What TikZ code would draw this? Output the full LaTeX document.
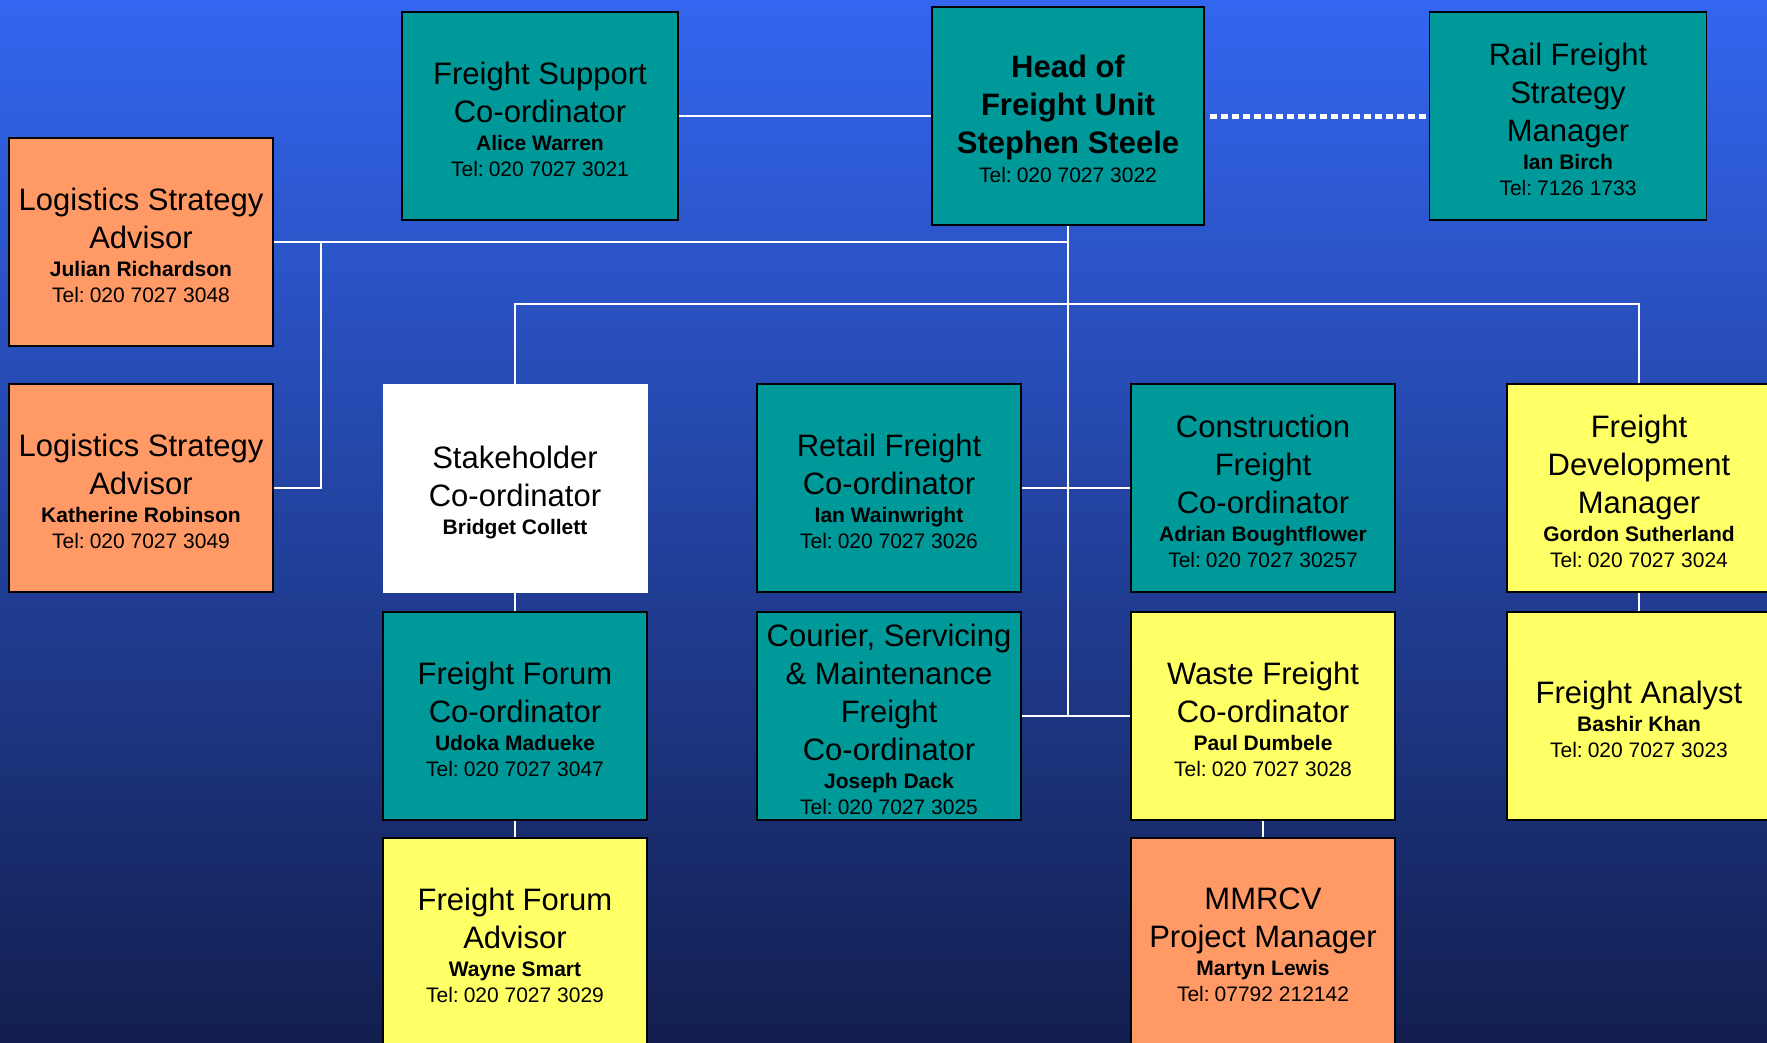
\documentclass[tikz,border=0pt]{standalone}
\usepackage{fontspec}
\setmainfont{Liberation Sans}
\definecolor{boxteal}{RGB}{0,153,153}
\definecolor{boxorange}{RGB}{255,153,102}
\definecolor{boxyellow}{RGB}{255,255,102}
\definecolor{bgtop}{RGB}{51,102,240}
\definecolor{bgmid}{RGB}{40,74,190}
\definecolor{bgbot}{RGB}{18,30,78}
\newcommand\ttl{\fontsize{31}{38}\selectfont\spaceskip=0.278em\relax}
\newcommand\sml{\fontsize{21}{26}\selectfont\spaceskip=0.278em\relax}
\newcommand\card[3]{{\ttl #1\par}\vspace{2pt}{\sml\textbf{#2}\\#3\par}\vspace{-6pt}}
\tikzset{
  box/.style={draw=black, line width=1.6pt, inner sep=0pt, minimum width=264pt,
    minimum height=208pt, text width=262pt, align=center, text=black},
  tealbox/.style={box, fill=boxteal},
  orangebox/.style={box, fill=boxorange},
  yellowbox/.style={box, fill=boxyellow},
  whitebox/.style={box, fill=white, draw=white, line width=1pt},
  conn/.style={draw=white, line width=2pt},
  dotline/.style={draw=white, line width=5pt, dash pattern=on 7pt off 4pt}
}
\begin{document}
\begin{tikzpicture}[x=1pt,y=-1pt]
\useasboundingbox (0,0) rectangle (1767,1042);
\shade[top color=bgtop, middle color=bgmid, bottom color=bgbot] (0,0) rectangle (1767,1042);

% top row
\node[tealbox, minimum width=276pt] (fs) at (540,116)
  {\card{Freight Support\\Co-ordinator}{Alice Warren}{Tel: 020 7027 3021}};
\node[tealbox, minimum width=272pt, minimum height=218pt] (head) at (1068,116)
  {{\ttl\bfseries Head of\\Freight Unit\\Stephen Steele\par}\vspace{3pt}{\sml Tel: 020 7027 3022\par}\vspace{-5pt}};
\node[tealbox, minimum width=277pt] (rail) at (1568,116)
  {\card{Rail Freight\\Strategy\\Manager}{Ian Birch}{Tel: 7126 1733}};

% left column
\node[orangebox] (lsa1) at (141,242)
  {\card{Logistics Strategy\\Advisor}{Julian Richardson}{Tel: 020 7027 3048}};
\node[orangebox] (lsa2) at (141,488)
  {\card{Logistics Strategy\\Advisor}{Katherine Robinson}{Tel: 020 7027 3049}};

% second row
\node[whitebox] (stake) at (515,488)
  {{\ttl Stakeholder\\Co-ordinator\par}\vspace{2pt}{\sml\textbf{Bridget Collett}\par}\vspace{-9pt}};
\node[tealbox] (retail) at (889,488)
  {\card{Retail Freight\\Co-ordinator}{Ian Wainwright}{Tel: 020 7027 3026}};
\node[tealbox] (constr) at (1263,488)
  {\card{Construction\\Freight\\Co-ordinator}{Adrian Boughtflower}{Tel: 020 7027 30257}};
\node[yellowbox] (fdm) at (1639,488)
  {\card{Freight\\Development\\Manager}{Gordon Sutherland}{Tel: 020 7027 3024}};

% third row
\node[tealbox] (ffc) at (515,716)
  {\card{Freight Forum\\Co-ordinator}{Udoka Madueke}{Tel: 020 7027 3047}};
\node[tealbox] (courier) at (889,716)
  {\card{Courier, Servicing\\\& Maintenance\\Freight\\Co-ordinator}{Joseph Dack}{Tel: 020 7027 3025}};
\node[yellowbox] (waste) at (1263,716)
  {\card{Waste Freight\\Co-ordinator}{Paul Dumbele}{Tel: 020 7027 3028}};
\node[yellowbox] (analyst) at (1639,716)
  {\card{Freight Analyst}{Bashir Khan}{Tel: 020 7027 3023}};

% fourth row
\node[yellowbox] (ffa) at (515,942)
  {\card{Freight Forum\\Advisor}{Wayne Smart}{Tel: 020 7027 3029}};
\node[orangebox] (mmrcv) at (1263,942)
  {\card{MMRCV\\Project Manager}{Martyn Lewis}{Tel: 07792 212142}};

% connectors
\coordinate (lbus) at (321,242);
\coordinate (bus) at (1068,304);
\draw[conn] (fs.east) -- (head.west);
\draw[dotline, shorten <=5pt] (head.east) -- (rail.west);
\draw[conn] (head.south) -- (head.south |- courier.east);
\draw[conn] (lsa1.east) -- (lbus) -- (head.south |- lbus);
\draw[conn] (lbus) |- (lsa2.east);
\draw[conn] (stake.north) |- (bus) -| (fdm.north);
\draw[conn] (retail.east) -- (constr.west);
\draw[conn] (courier.east) -- (waste.west);
\draw[conn] (stake.south) -- (ffc.north);
\draw[conn] (ffc.south) -- (ffa.north);
\draw[conn] (fdm.south) -- (analyst.north);
\draw[conn] (waste.south) -- (mmrcv.north);
\end{tikzpicture}
\end{document}
